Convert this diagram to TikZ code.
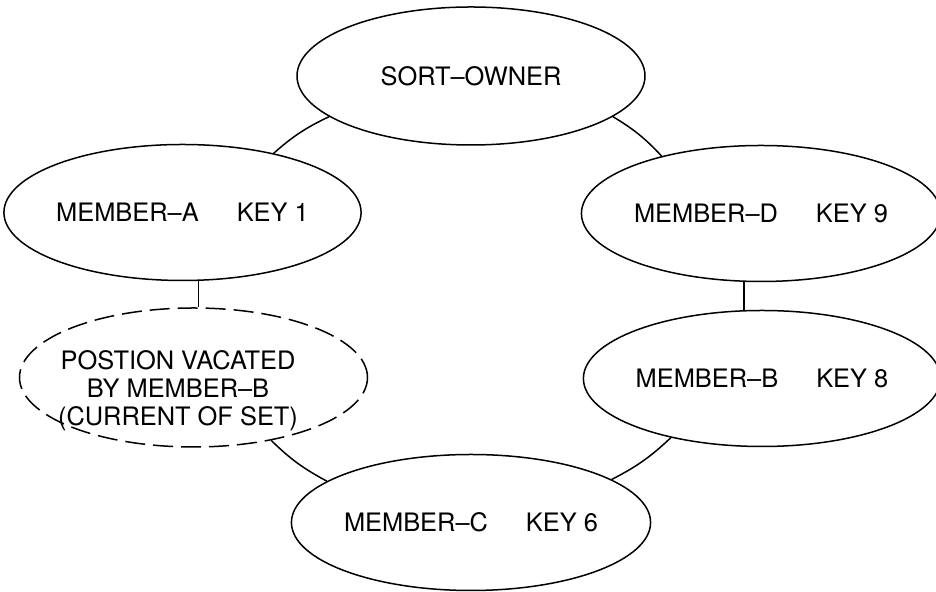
\documentclass[tikz,border=0pt]{standalone}
\usepackage{fontspec}
\setmainfont{TeX Gyre Heros}
\usetikzlibrary{shapes.geometric}
\tikzset{
  recbox/.style={ellipse,draw,line width=0.75pt,inner sep=0pt,
    minimum width=174pt,minimum height=68pt,
    font=\fontsize{12.7}{14}\selectfont},
  vacbox/.style={recbox,dash pattern=on 10pt off 4pt},
  vactext/.style={font=\fontsize{12.7}{14}\selectfont,align=center,inner sep=0pt},
  link/.style={line width=0.75pt}
}
\newcommand{\keygap}{\hspace{19pt}}

\begin{document}
\begin{tikzpicture}[x=0.5pt,y=0.5pt]
\useasboundingbox (0,0) rectangle (936,592);

% set owner and its members
\node[recbox,minimum height=69pt] (owner) at (471,516) {SORT--OWNER};
\node[recbox] (mema) at (182.5,379.5) {MEMBER--A\keygap KEY 1};
\node[recbox,minimum width=168pt] (memd) at (761,378.5) {MEMBER--D\keygap KEY 9};
\node[recbox,minimum width=168pt] (memb) at (762,213.5) {MEMBER--B\keygap KEY 8};
\node[recbox] (memc) at (471,69.5) {MEMBER--C\keygap KEY 6};

% vacated position
\node[vacbox,minimum height=69.5pt] (vac) at (193.5,214.5) {};
\node[vactext] (vacnote) at (178,201)
  {POSTION VACATED\\BY MEMBER--B\\(CURRENT OF SET)};

% set links
\draw[link] (owner.196) to[bend right=8] (mema.33);
\draw[link] (owner.344) to[bend left=8] (memd.150);
\draw[link] (mema.283) -- (mema.283 |- vac.north);
\draw[link] (memd.256) -- (memd.256 |- memb.north);
\draw[link] (vac.321) to[bend right=8] (memc.164);
\draw[link] (memb.213) to[bend left=8] (memc.17);

\end{tikzpicture}
\end{document}
